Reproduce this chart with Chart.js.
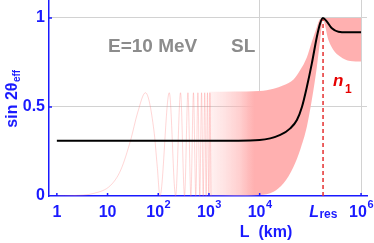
<!DOCTYPE html>
<html>
<head>
<meta charset="utf-8">
<script src="https://cdn.jsdelivr.net/npm/chart.js@4.4.0/dist/chart.umd.min.js"></script>
<style>
html, body { margin: 0; padding: 0; background: #fff; }
#wrap { width: 374px; height: 243px; }
</style>
</head>
<body>
<div id="wrap"><canvas id="c" width="374" height="243"></canvas></div>
<script>
// values (L in km)
const L_RES = 1.78e5;
const xTickVals = [1, 10, 100, 1e3, 1e4, L_RES, 1e6];
const xTickBase = ['1', '10', '10', '10', '10', 'L', '10'];
const xTickExp = ['', '', '2', '3', '4', 'res', '6'];
const yTickVals = [0, 0.5, 1];
const yTickLabels = ['0', '0.5', '1'];

// averaged sin 2theta_eff (black)
const curveL = [1, 1000, 10000, 25500, 40200, 54300, 68200, 85500, 107000, 134500, 156000, 176600, 212000, 265500, 358000, 524000, 1000000];
const curveV = [0.31, 0.31, 0.315, 0.343, 0.38, 0.427, 0.50, 0.614, 0.745, 0.895, 0.97, 1.0, 0.98, 0.942, 0.923, 0.92, 0.92];

// single oscillating line, low L (light pink)
const oscL = [1, 2, 5.4, 11.5, 18.2, 28.6, 39, 56, 82, 95.6, 108, 165, 220, 275, 330, 385, 440, 495, 550, 605, 660, 715, 770, 825, 880, 935, 990, 1045, 1100];
const oscV = [0, 0.002, 0.015, 0.06, 0.146, 0.315, 0.466, 0.58, 0.37, 0.165, 0, 0.58, 0, 0.58, 0, 0.58, 0, 0.58, 0, 0.58, 0, 0.58, 0, 0.58, 0, 0.58, 0, 0.58, 0];

// envelope of the dense oscillations (pink band)
const bandL = [1000, 10000, 18800, 29600, 46600, 63100, 85500, 107000, 134500, 156000, 176600, 227500, 285000, 386000, 608000, 1000000];
const bandHi = [0.586, 0.59, 0.603, 0.622, 0.655, 0.708, 0.78, 0.867, 0.95, 0.995, 1.0, 1.0, 1.0, 1.0, 1.0, 1.0];
const bandLo = [0, 0.005, 0.024, 0.071, 0.165, 0.26, 0.39, 0.54, 0.726, 0.876, 0.99, 0.876, 0.82, 0.783, 0.758, 0.755];

const FAM = '"Liberation Sans", Arial, sans-serif';
const BLUE = '#1a1aff';
const GRID = '#d2d2d2';
const CLEAR = 'rgba(0,0,0,0)';
// how dense the oscillation stripes look going right
const bandFade = [[700, 0], [1000, 0.15], [2000, 0.35], [4000, 0.6], [6000, 0.85], [8000, 1]];

const pts = (xs, ys) => xs.map((x, i) => ({ x: x, y: ys[i] }));

function bandColor(ctx) {
    const chart = ctx.chart;
    const area = chart.chartArea;
    const xs = chart.scales.x;
    if (!area || !xs) return 'rgb(255,176,176)';
    const g = chart.ctx.createLinearGradient(area.left, 0, area.right, 0);
    const w = area.right - area.left;
    bandFade.forEach(([L, a]) => {
        const t = (xs.getPixelForValue(L) - area.left) / w;
        g.addColorStop(Math.min(1, Math.max(0, t)), 'rgba(255,176,176,' + a + ')');
    });
    return g;
}

const overlay = {
    id: 'overlay',
    afterDraw(chart) {
        const c = chart.ctx;
        const xs = chart.scales.x;
        const ys = chart.scales.y;
        const area = chart.chartArea;
        c.save();
        // small inward tick marks
        c.strokeStyle = BLUE;
        c.lineWidth = 1.5;
        xTickVals.forEach(v => {
            if (v === L_RES) return;
            const px = xs.getPixelForValue(v);
            c.beginPath();
            c.moveTo(px, area.bottom);
            c.lineTo(px, area.bottom - 3);
            c.stroke();
        });
        yTickVals.forEach(v => {
            if (v === 0) return;
            const py = ys.getPixelForValue(v);
            c.beginPath();
            c.moveTo(area.left, py);
            c.lineTo(area.left + 3, py);
            c.stroke();
        });
        // x tick labels with exponents
        c.fillStyle = BLUE;
        c.textAlign = 'left';
        c.textBaseline = 'alphabetic';
        xTickVals.forEach((v, i) => {
            const base = xTickBase[i], exp = xTickExp[i];
            const isRes = exp === 'res';
            const f1 = (isRes ? 'italic ' : '') + 'bold 16px ' + FAM;
            const f2 = 'bold ' + (isRes ? 12 : 11) + 'px ' + FAM;
            c.font = f1;
            const w1 = c.measureText(base).width;
            c.font = f2;
            const w2 = exp ? c.measureText(exp).width : 0;
            const x0 = xs.getPixelForValue(v) - (w1 + w2) / 2;
            c.font = f1;
            c.fillText(base, x0, area.bottom + 20.5);
            if (exp) {
                c.font = f2;
                c.fillText(exp, x0 + w1 + 0.5, area.bottom + (isRes ? 21.5 : 11.5));
            }
        });
        // x title
        c.font = 'bold 16px ' + FAM;
        c.textAlign = 'center';
        c.fillText('L  (km)', 266, 237);
        // y title, rotated
        c.save();
        c.translate(11, 99);
        c.rotate(-Math.PI / 2);
        c.font = 'bold 16px ' + FAM;
        const m1 = c.measureText('sin 2θ').width;
        c.font = 'bold 10px ' + FAM;
        const m2 = c.measureText('eff').width;
        c.textAlign = 'left';
        c.font = 'bold 16px ' + FAM;
        c.fillText('sin 2θ', -(m1 + m2) / 2, 6);
        c.font = 'bold 10px ' + FAM;
        c.fillText('eff', -(m1 + m2) / 2 + m1 + 0.5, 8.5);
        c.restore();
        // annotations
        c.textAlign = 'left';
        c.fillStyle = '#8c8c8c';
        c.font = 'bold 19px ' + FAM;
        c.fillText('E=10 MeV', 108, 52);
        c.fillText('SL', 231, 52);
        c.fillStyle = '#e60000';
        c.font = 'italic bold 17px ' + FAM;
        c.fillText('n', 333, 86);
        c.font = 'bold 12px ' + FAM;
        c.fillText('1', 345, 93);
        c.restore();
    }
};

new Chart(document.getElementById('c'), {
    type: 'line',
    data: {
        datasets: [
            {
                data: pts(curveL, curveV),
                borderColor: '#000',
                borderWidth: 2,
                cubicInterpolationMode: 'monotone',
                pointRadius: 0,
                fill: false,
                order: 0
            },
            {
                data: [{ x: L_RES, y: 0 }, { x: L_RES, y: 1 }],
                borderColor: '#e53030',
                borderWidth: 1.5,
                borderDash: [4, 3],
                pointRadius: 0,
                fill: false,
                order: 1
            },
            {
                data: pts(oscL, oscV),
                borderColor: 'rgba(255,120,120,0.3)',
                borderWidth: 1,
                cubicInterpolationMode: 'monotone',
                pointRadius: 0,
                fill: false,
                order: 2
            },
            {
                data: pts(bandL, bandHi),
                borderColor: CLEAR,
                borderWidth: 1,
                backgroundColor: bandColor,
                cubicInterpolationMode: 'monotone',
                pointRadius: 0,
                fill: '+1',
                order: 3
            },
            {
                data: pts(bandL, bandLo),
                borderColor: CLEAR,
                borderWidth: 1,
                cubicInterpolationMode: 'monotone',
                pointRadius: 0,
                fill: false,
                order: 4
            }
        ]
    },
    options: {
        responsive: false,
        animation: false,
        devicePixelRatio: 1,
        events: [],
        layout: { padding: { left: 0, right: 7, top: 0, bottom: 0 } },
        plugins: { legend: { display: false }, tooltip: { enabled: false } },
        scales: {
            x: {
                type: 'logarithmic',
                min: 0.728,
                max: 1.31e6,
                afterBuildTicks(s) { s.ticks = xTickVals.map(v => ({ value: v })); },
                afterFit(s) { s.height = 47; s.paddingLeft = 0; s.paddingRight = 0; },
                ticks: { autoSkip: false, callback: () => '' },
                grid: {
                    drawTicks: false,
                    color: ctx => (ctx.tick && (ctx.tick.value === 1e4 || ctx.tick.value === 1e6)) ? GRID : CLEAR
                },
                border: { color: BLUE, width: 1.5 }
            },
            y: {
                min: 0,
                max: 1.101,
                afterBuildTicks(s) { s.ticks = yTickVals.map(v => ({ value: v })); },
                afterFit(s) { s.width = 49; s.paddingTop = 0; s.paddingBottom = 0; },
                ticks: {
                    autoSkip: false,
                    padding: 4,
                    color: BLUE,
                    font: { family: FAM, weight: 'bold', size: 16 },
                    callback: v => yTickLabels[yTickVals.indexOf(v)]
                },
                grid: {
                    drawTicks: false,
                    color: ctx => (ctx.tick && (ctx.tick.value === 0.5 || ctx.tick.value === 1)) ? GRID : CLEAR
                },
                border: { color: BLUE, width: 1.5 }
            }
        }
    },
    plugins: [overlay]
});
</script>
</body>
</html>
